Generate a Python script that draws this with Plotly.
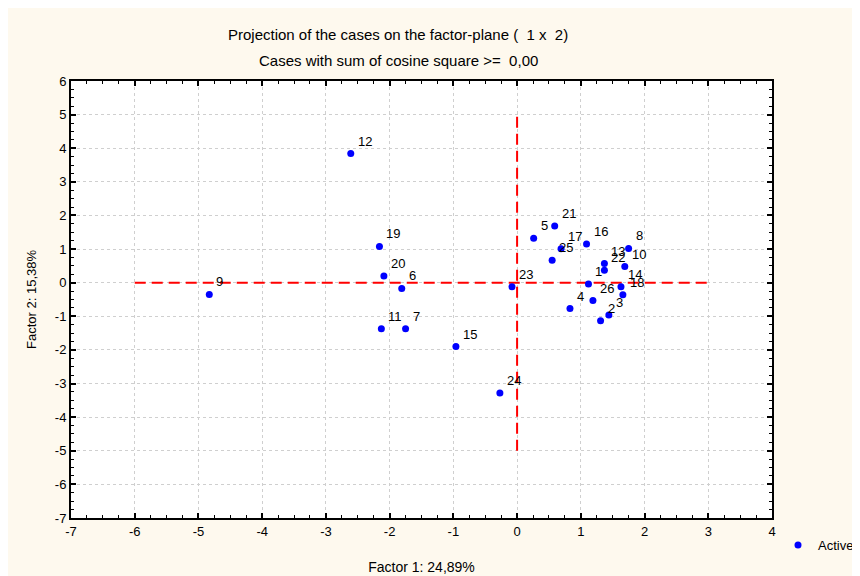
import plotly.graph_objects as go

case_labels = [str(i) for i in range(1, 27)]
factor1 = [1.12, 1.31, 1.44, 0.83, 0.26, -1.81, -1.75, 1.75, -4.83, 1.69,
           -2.13, -2.61, 1.37, 1.63, -0.96, 1.09, 0.69, 1.66, -2.16, -2.09,
           0.59, 1.37, -0.08, -0.27, 0.55, 1.19]
factor2 = [-0.04, -1.13, -0.96, -0.77, 1.32, -0.17, -1.37, 1.02, -0.35, 0.48,
           -1.37, 3.84, 0.57, -0.12, -1.90, 1.15, 1.01, -0.36, 1.08, 0.20,
           1.69, 0.37, -0.12, -3.28, 0.67, -0.53]

hline_x = [-6, 3]
hline_y = [0, 0]
vline_x = [0, 0]
vline_y = [-5, 5]

x_ticks = list(range(-7, 5))
y_ticks = list(range(-7, 7))

FONT = "Liberation Sans, Arial"
CREAM = "#FEF9EE"

W, H = 852, 568
ML, MR, MT, MB = 63, 88, 73, 58
PW, PH = W - ML - MR, H - MT - MB

fig = go.Figure()

fig.add_trace(go.Scatter(x=hline_x, y=hline_y, mode="lines", showlegend=False,
                         line=dict(color="#FF0000", width=2, dash="11px,6px"),
                         hoverinfo="skip"))
fig.add_trace(go.Scatter(x=vline_x, y=vline_y, mode="lines", showlegend=False,
                         line=dict(color="#FF0000", width=2, dash="11px,6px"),
                         hoverinfo="skip"))

fig.add_trace(go.Scatter(x=factor1, y=factor2, mode="markers", name="Active",
                         marker=dict(color="#0000FF", size=7)))

for xv, yv, lab in zip(factor1, factor2, case_labels):
    fig.add_annotation(x=xv, y=yv, text=lab, showarrow=False,
                       xanchor="left", yanchor="bottom", xshift=5, yshift=3,
                       font=dict(family=FONT, size=13, color="#000000"))

axis_common = dict(
    showgrid=True, gridcolor="#CFCFCF", griddash="dot", gridwidth=1,
    zeroline=False, showline=True, linecolor="#000000", linewidth=2, mirror="ticks",
    ticks="inside", ticklen=5, tickwidth=2, tickcolor="#000000",
    tickfont=dict(family=FONT, size=13, color="#000000"),
    minor=dict(ticks="inside", ticklen=3, tickwidth=1, tickcolor="#000000",
               dtick=0.25, showgrid=False),
)

fig.update_xaxes(range=[-7, 4], tickvals=x_ticks, ticktext=[str(v) for v in x_ticks],
                 title=dict(text="Factor 1: 24,89%", font=dict(family=FONT, size=14, color="#000000"),
                            standoff=25),
                 **axis_common)
fig.update_yaxes(range=[-7, 6], tickvals=y_ticks, ticktext=[str(v) for v in y_ticks],
                 title=dict(text="Factor 2: 15,38%", font=dict(family=FONT, size=13, color="#000000"),
                            standoff=15),
                 **axis_common)

fig.add_annotation(text="Projection of the cases on the factor-plane (  1 x  2)",
                   xref="paper", yref="paper", x=(390 - ML)/PW, y=(H - MB - 26)/PH,
                   showarrow=False, xanchor="center", yanchor="middle",
                   font=dict(family=FONT, size=15, color="#000000"))
fig.add_annotation(text="Cases with sum of cosine square >=  0,00",
                   xref="paper", yref="paper", x=(390 - ML)/PW, y=(H - MB - 52)/PH,
                   showarrow=False, xanchor="center", yanchor="middle",
                   font=dict(family=FONT, size=15, color="#000000"))

fig.update_layout(
    width=W, height=H,
    margin=dict(l=ML, r=MR, t=MT, b=MB, autoexpand=False),
    paper_bgcolor=CREAM, plot_bgcolor="#FFFFFF",
    showlegend=True,
    legend=dict(xref="container", yref="container", x=770/W, y=(H - 537)/H,
                xanchor="left", yanchor="middle",
                bgcolor="rgba(0,0,0,0)", font=dict(family=FONT, size=13, color="#000000"),
                itemwidth=30),
)

fig.write_html("out.html")
